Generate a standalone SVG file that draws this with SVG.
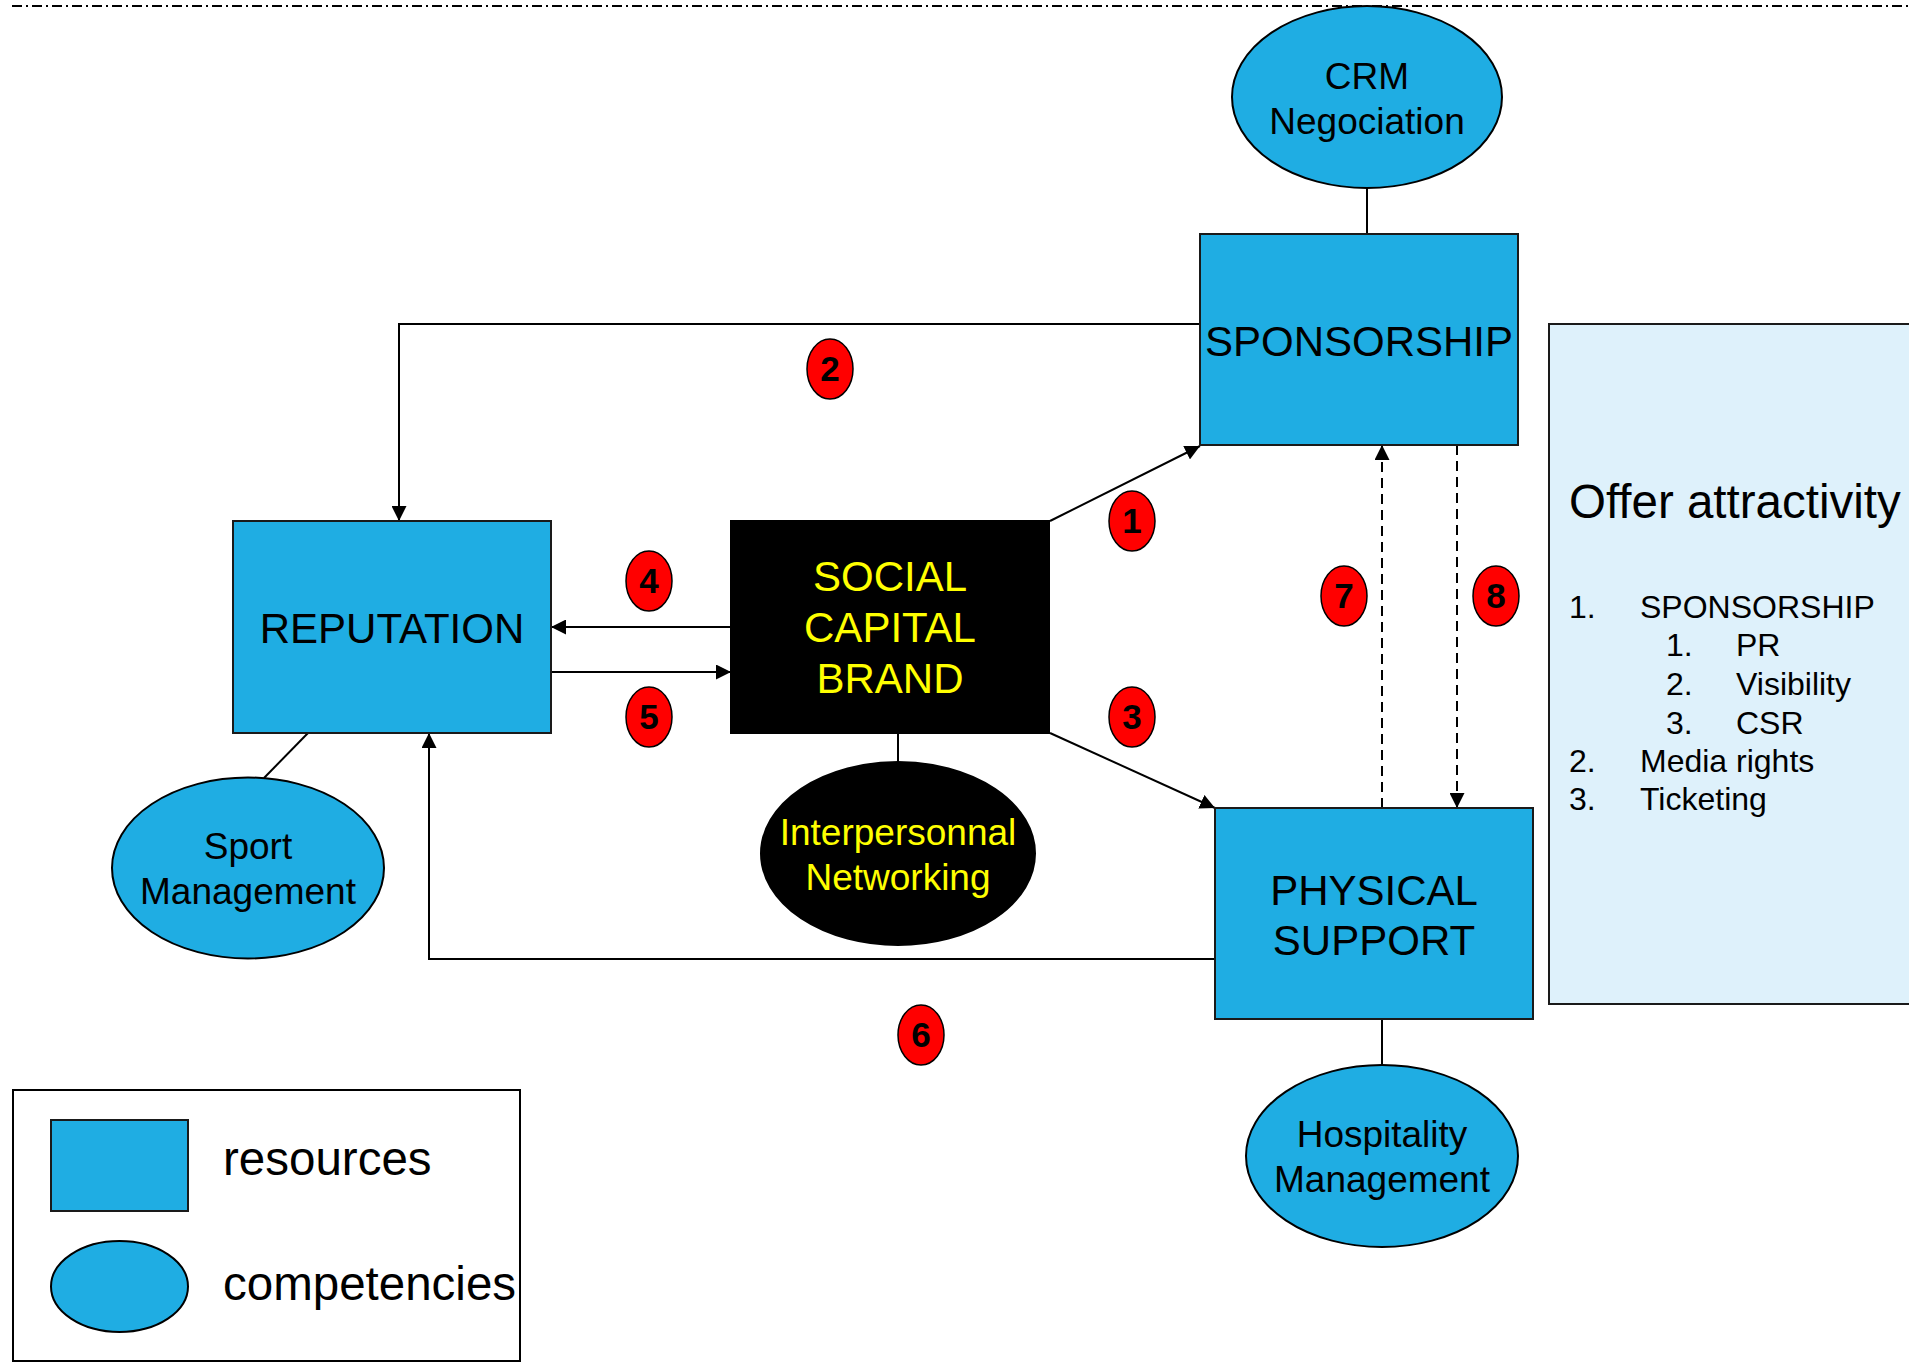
<svg xmlns="http://www.w3.org/2000/svg" width="1909" height="1362" viewBox="0 0 1909 1362">
  <style>
    text { font-family: "Liberation Sans", Arial, sans-serif; }
    .res { fill: #1FADE3; stroke: #1a1a1a; stroke-width: 2; }
    .comp { fill: #1FADE3; stroke: #000; stroke-width: 2; }
    .blk { fill: #000; stroke: #000; stroke-width: 2; }
    .lbl { font-size: 42px; fill: #000; text-anchor: middle; }
    .ylbl { font-size: 42px; fill: #FFFF00; text-anchor: middle; }
    .ctxt { font-size: 37px; fill: #000; text-anchor: middle; }
    .yctxt { font-size: 37px; fill: #FFFF00; text-anchor: middle; }
    .conn { fill: none; stroke: #000; stroke-width: 2; }
    .dash { stroke-dasharray: 10 6; }
    .badge ellipse { fill: #FF0000; stroke: #000; stroke-width: 1.5; }
    .badge text { font-size: 35px; font-weight: bold; fill: #000; text-anchor: middle; }
    .list { font-size: 32px; fill: #000; }
  </style>
  <defs>
    <marker id="arr" markerUnits="userSpaceOnUse" markerWidth="15" markerHeight="15" refX="15" refY="7.5" orient="auto">
      <path d="M0,0 L15,7.5 L0,15 z" fill="#000"/>
    </marker>
  </defs>
  <rect width="1909" height="1362" fill="#fff"/>

  <!-- top dash-dot line -->
  <line x1="12" y1="6" x2="1909" y2="6" stroke="#000" stroke-width="2" stroke-dasharray="10 4 2 4"/>

  <!-- connectors -->
  <g id="connectors">
    <line class="conn" x1="1367" y1="188" x2="1367" y2="234"/>
    <line class="conn" x1="264" y1="778" x2="308" y2="733"/>
    <line class="conn" x1="898" y1="733" x2="898" y2="762"/>
    <line class="conn" x1="1382" y1="1019" x2="1382" y2="1065"/>
    <line class="conn" x1="1050" y1="521" x2="1200" y2="446" marker-end="url(#arr)"/>
    <polyline class="conn" points="1200,324 399,324 399,521" marker-end="url(#arr)"/>
    <line class="conn" x1="1050" y1="733" x2="1215" y2="808" marker-end="url(#arr)"/>
    <line class="conn" x1="731" y1="627" x2="551" y2="627" marker-end="url(#arr)"/>
    <line class="conn" x1="551" y1="672" x2="731" y2="672" marker-end="url(#arr)"/>
    <polyline class="conn" points="1215,959 429,959 429,733" marker-end="url(#arr)"/>
    <line class="conn dash" x1="1382" y1="808" x2="1382" y2="445" marker-end="url(#arr)"/>
    <line class="conn dash" x1="1457" y1="445" x2="1457" y2="808" marker-end="url(#arr)"/>
  </g>

  <!-- nodes -->
  <g id="crm">
    <ellipse class="comp" cx="1367" cy="97" rx="135" ry="91"/>
    <text class="ctxt" x="1367" y="89">CRM</text>
    <text class="ctxt" x="1367" y="134">Negociation</text>
  </g>
  <g id="sponsorship">
    <rect class="res" x="1200" y="234" width="318" height="211"/>
    <text class="lbl" x="1359" y="356">SPONSORSHIP</text>
  </g>
  <g id="reputation">
    <rect class="res" x="233" y="521" width="318" height="212"/>
    <text class="lbl" x="392" y="643">REPUTATION</text>
  </g>
  <g id="social-capital-brand">
    <rect class="blk" x="731" y="521" width="318" height="212"/>
    <text class="ylbl" x="890" y="591">SOCIAL</text>
    <text class="ylbl" x="890" y="642">CAPITAL</text>
    <text class="ylbl" x="890" y="693">BRAND</text>
  </g>
  <g id="physical-support">
    <rect class="res" x="1215" y="808" width="318" height="211"/>
    <text class="lbl" x="1374" y="905">PHYSICAL</text>
    <text class="lbl" x="1374" y="955">SUPPORT</text>
  </g>
  <g id="sport-management">
    <ellipse class="comp" cx="248" cy="868" rx="136" ry="90.5"/>
    <text class="ctxt" x="248" y="859">Sport</text>
    <text class="ctxt" x="248" y="904">Management</text>
  </g>
  <g id="interpersonnal-networking">
    <ellipse class="blk" cx="898" cy="853.5" rx="137" ry="91.5"/>
    <text class="yctxt" x="898" y="845">Interpersonnal</text>
    <text class="yctxt" x="898" y="890">Networking</text>
  </g>
  <g id="hospitality-management">
    <ellipse class="comp" cx="1382" cy="1156" rx="136" ry="91"/>
    <text class="ctxt" x="1382" y="1147">Hospitality</text>
    <text class="ctxt" x="1382" y="1192">Management</text>
  </g>

  <!-- badges -->
  <g id="badge-1" class="badge"><ellipse cx="1132" cy="521" rx="23" ry="30"/><text x="1132" y="533">1</text></g>
  <g id="badge-2" class="badge"><ellipse cx="830" cy="369" rx="23" ry="30"/><text x="830" y="381">2</text></g>
  <g id="badge-3" class="badge"><ellipse cx="1132" cy="717" rx="23" ry="30"/><text x="1132" y="729">3</text></g>
  <g id="badge-4" class="badge"><ellipse cx="649" cy="581" rx="23" ry="30"/><text x="649" y="593">4</text></g>
  <g id="badge-5" class="badge"><ellipse cx="649" cy="717" rx="23" ry="30"/><text x="649" y="729">5</text></g>
  <g id="badge-6" class="badge"><ellipse cx="921" cy="1035" rx="23" ry="30"/><text x="921" y="1047">6</text></g>
  <g id="badge-7" class="badge"><ellipse cx="1344" cy="596" rx="23" ry="30"/><text x="1344" y="608">7</text></g>
  <g id="badge-8" class="badge"><ellipse cx="1496" cy="596" rx="23" ry="30"/><text x="1496" y="608">8</text></g>

  <!-- offer attractivity panel -->
  <g id="offer-attractivity">
    <rect x="1549" y="324" width="420" height="680" fill="#DEF1FB" stroke="#1a1a1a" stroke-width="2"/>
    <text x="1569" y="518" style="font-size:47.5px">Offer attractivity</text>
    <text class="list" x="1569" y="618">1.</text>
    <text class="list" x="1640" y="618">SPONSORSHIP</text>
    <text class="list" x="1666" y="656">1.</text>
    <text class="list" x="1736" y="656">PR</text>
    <text class="list" x="1666" y="695">2.</text>
    <text class="list" x="1736" y="695">Visibility</text>
    <text class="list" x="1666" y="734">3.</text>
    <text class="list" x="1736" y="734">CSR</text>
    <text class="list" x="1569" y="772">2.</text>
    <text class="list" x="1640" y="772">Media rights</text>
    <text class="list" x="1569" y="810">3.</text>
    <text class="list" x="1640" y="810">Ticketing</text>
  </g>

  <!-- legend -->
  <g id="legend">
    <rect x="13" y="1090" width="507" height="271" fill="none" stroke="#000" stroke-width="2"/>
    <rect class="res" x="51" y="1120" width="137" height="91"/>
    <ellipse class="comp" cx="119.5" cy="1286.5" rx="68.5" ry="45.5"/>
    <text x="223" y="1175" style="font-size:47.5px">resources</text>
    <text x="223" y="1300" style="font-size:47.5px">competencies</text>
  </g>
</svg>
